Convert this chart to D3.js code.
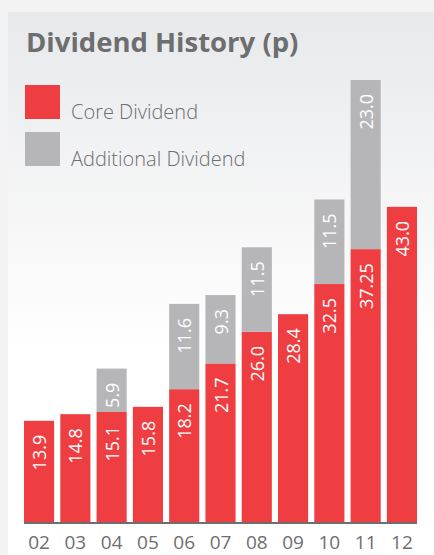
<!DOCTYPE html>
<html>
<head>
<meta charset="utf-8">
<script src="https://cdn.jsdelivr.net/npm/d3@7"></script>
<style>
  html, body { margin: 0; padding: 0; background: #f3f3f3; }
  svg { display: block; }
</style>
</head>
<body>
<div id="chart"></div>
<script>
// chart values
const years = ['02', '03', '04', '05', '06', '07', '08', '09', '10', '11', '12'];
const coreDividend = [13.9, 14.8, 15.1, 15.8, 18.2, 21.7, 26.0, 28.4, 32.5, 37.25, 43.0];
const additionalDividend = [0, 0, 5.9, 0, 11.6, 9.3, 11.5, 0, 11.5, 23.0, 0];
const seriesNames = ['Core Dividend', 'Additional Dividend'];
const seriesKeys = ['core', 'extra'];
const seriesColors = ['#ef3e42', '#b6b6b8'];
const title = 'Dividend History (p)';

const width = 434;
const height = 555;
const baseY = 523;
const textGray = '#6d6e70';
const font = "'Open Sans', 'Noto Sans', sans-serif";

const svg = d3.select('#chart')
  .append('svg')
  .attr('width', width)
  .attr('height', height);

// panel background with soft gradient
const grad = svg.append('defs')
  .append('linearGradient')
  .attr('id', 'panelGrad')
  .attr('x1', 0).attr('y1', 0).attr('x2', 0).attr('y2', 1);
grad.append('stop').attr('offset', '0%').attr('stop-color', '#e8e9eb');
grad.append('stop').attr('offset', '62%').attr('stop-color', '#ffffff');
grad.append('stop').attr('offset', '100%').attr('stop-color', '#ffffff');

svg.append('rect')
  .attr('width', width).attr('height', height)
  .attr('fill', '#f3f3f3');
svg.append('rect')
  .attr('x', 8).attr('y', 12)
  .attr('width', width - 8).attr('height', height - 12)
  .attr('fill', 'url(#panelGrad)');

// title
svg.append('text')
  .attr('x', 26)
  .attr('y', 52)
  .attr('font-family', font)
  .attr('font-weight', 'bold')
  .attr('font-size', '27.5px')
  .attr('fill', textGray)
  .text(title);

// legend
const legend = svg.append('g').attr('class', 'legend');
seriesNames.forEach((name, i) => {
  const row = legend.append('g')
    .attr('transform', `translate(25, ${85 + i * 47})`);
  row.append('rect')
    .attr('width', 35).attr('height', 34)
    .attr('fill', seriesColors[i]);
  row.append('text')
    .attr('x', 46)
    .attr('y', 34)
    .attr('font-family', font)
    .attr('font-weight', 300)
    .attr('font-size', '20px')
    .attr('fill', textGray)
    .text(name);
});

// scales
const scaleX = d3.scaleBand()
  .domain(years)
  .range([24, 417])
  .paddingInner(0.17)
  .paddingOuter(0);

const scaleY = d3.scaleLinear()
  .domain([0, 60.25])
  .range([baseY, 80]);

const rows = years.map((y, i) => ({
  year: y,
  core: coreDividend[i],
  extra: additionalDividend[i]
}));

const stacked = d3.stack().keys(seriesKeys)(rows);

const fmt = v => Number.isInteger(v * 10) ? v.toFixed(1) : String(v);

const bars = svg.append('g').attr('class', 'bars');
stacked.forEach((layer, li) => {
  const key = seriesKeys[li];
  const g = bars.append('g');
  const segs = layer.filter(d => d.data[key] > 0);
  g.selectAll('rect')
    .data(segs)
    .enter()
    .append('rect')
    .attr('x', d => scaleX(d.data.year))
    .attr('y', d => scaleY(d[1]))
    .attr('width', scaleX.bandwidth())
    .attr('height', d => scaleY(d[0]) - scaleY(d[1]))
    .attr('fill', seriesColors[li]);

  // rotated value labels, reading upward from the bottom
  g.selectAll('text')
    .data(segs)
    .enter()
    .append('text')
    .attr('transform', d => {
      const cx = scaleX(d.data.year) + scaleX.bandwidth() / 2;
      const ty = scaleY(d[1]) + 14;
      return `translate(${cx}, ${ty}) rotate(-90)`;
    })
    .attr('text-anchor', 'end')
    .attr('dominant-baseline', 'central')
    .attr('font-family', font)
    .attr('font-size', '18px')
    .attr('fill', '#ffffff')
    .text(d => fmt(d.data[key]));
});

// baseline axis
const axisG = svg.append('g')
  .attr('transform', `translate(0, ${baseY})`)
  .call(d3.axisBottom(scaleX).tickSize(0));
axisG.select('.domain')
  .attr('stroke', textGray)
  .attr('stroke-width', 2)
  .attr('d', 'M24,0H417');
axisG.selectAll('text')
  .attr('y', 26)
  .attr('dy', 0)
  .attr('font-family', font)
  .attr('font-size', '19px')
  .attr('fill', textGray);
</script>
</body>
</html>
